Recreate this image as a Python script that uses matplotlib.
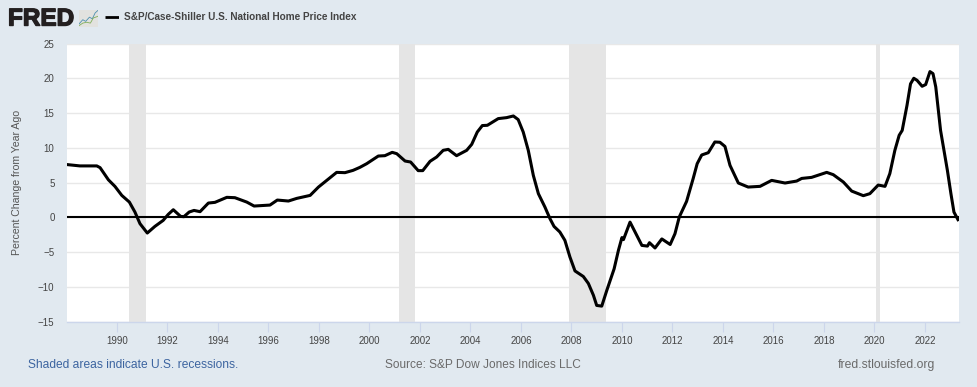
import matplotlib
matplotlib.use("Agg")
import matplotlib.pyplot as plt
import matplotlib.patheffects as pe
from matplotlib.patches import Rectangle

plt.rcParams['font.family'] = ['Liberation Sans', 'DejaVu Sans']

years = [1988.0, 1988.53, 1989.2, 1989.33, 1989.66, 1989.92, 1990.19, 1990.49, 1990.71, 1990.91,
         1991.2, 1991.5, 1991.83, 1992.03, 1992.23, 1992.52, 1992.65, 1992.86, 1993.05, 1993.29,
         1993.62, 1993.88, 1994.35, 1994.67, 1995.14, 1995.43, 1996.06, 1996.35, 1996.79, 1997.12,
         1997.65, 1997.98, 1998.31, 1998.7, 1999.03, 1999.35, 1999.62, 1999.89, 2000.35, 2000.61,
         2000.9, 2001.08, 2001.41, 2001.63, 2001.93, 2002.11, 2002.4, 2002.66, 2002.92, 2003.12,
         2003.45, 2003.85, 2004.05, 2004.27, 2004.47, 2004.67, 2005.1, 2005.43, 2005.7, 2005.89,
         2006.09, 2006.29, 2006.49, 2006.69, 2006.95, 2007.15, 2007.31, 2007.54, 2007.74, 2007.94,
         2008.14, 2008.47, 2008.67, 2008.87, 2009.0, 2009.2, 2009.4, 2009.69, 2009.86, 2010.0,
         2010.06, 2010.32, 2010.52, 2010.79, 2011.01, 2011.09, 2011.31, 2011.58, 2011.91, 2012.1,
         2012.27, 2012.56, 2012.82, 2012.98, 2013.16, 2013.42, 2013.68, 2013.88, 2014.08, 2014.28,
         2014.61, 2015.0, 2015.47, 2015.93, 2016.46, 2016.92, 2017.12, 2017.51, 2018.11, 2018.37,
         2018.77, 2019.1, 2019.56, 2019.82, 2020.15, 2020.42, 2020.61, 2020.81, 2020.98, 2021.1,
         2021.29, 2021.43, 2021.56, 2021.69, 2021.89, 2022.03, 2022.2, 2022.32, 2022.43, 2022.62,
         2022.89, 2023.03, 2023.15, 2023.31]
values = [7.6, 7.4, 7.4, 7.15, 5.4, 4.45, 3.16, 2.2, 0.77, -0.9,
          -2.25, -1.3, -0.43, 0.43, 1.1, 0.14, 0.1, 0.77, 1.0, 0.82,
          2.06, 2.16, 2.88, 2.83, 2.2, 1.63, 1.77, 2.49, 2.35, 2.73,
          3.16, 4.36, 5.32, 6.47, 6.43, 6.76, 7.19, 7.72, 8.82, 8.87,
          9.35, 9.16, 8.1, 7.96, 6.72, 6.72, 8.06, 8.68, 9.64, 9.78,
          8.87, 9.64, 10.5, 12.27, 13.2, 13.24, 14.2, 14.34, 14.58, 14.06,
          12.27, 9.64, 6.04, 3.41, 1.48, -0.19, -1.3, -2.1, -3.3, -5.7,
          -7.7, -8.5, -9.5, -11.2, -12.66, -12.76, -10.5, -7.4, -4.75, -2.9,
          -3.2, -0.68, -2.1, -4.03, -4.13, -3.64, -4.4, -3.1, -3.9, -2.35,
          0.05, 2.3, 5.57, 7.72, 8.97, 9.3, 10.84, 10.8, 10.2, 7.48,
          4.94, 4.36, 4.46, 5.32, 4.94, 5.22, 5.6, 5.75, 6.47, 6.14,
          5.08, 3.78, 3.12, 3.41, 4.65, 4.46, 6.29, 9.64, 11.8, 12.5,
          16.1, 19.2, 20.0, 19.7, 18.85, 19.1, 20.96, 20.67, 18.75, 12.5,
          6.76, 3.41, 0.76, -0.33]

recession_starts = [1990.48, 2001.18, 2007.9, 2020.06]
recession_ends = [1991.15, 2001.8, 2009.37, 2020.22]
xticks = [1990, 1992, 1994, 1996, 1998, 2000, 2002, 2004, 2006, 2008, 2010, 2012, 2014, 2016, 2018, 2020, 2022]
yticks = [-15, -10, -5, 0, 5, 10, 15, 20, 25]

W, H = 977, 387
BG = '#E1E9F0'
fig = plt.figure(figsize=(W / 100, H / 100), dpi=100, facecolor=BG)
ax = fig.add_axes([67 / W, 1 - 321.7 / H, (959 - 67) / W, (321.7 - 43.5) / H], facecolor='white')
ax.set_xlim(1988.02, 2023.35)
ax.set_ylim(-15, 25)

for s, e in zip(recession_starts, recession_ends):
    ax.axvspan(s, e, color='#E5E5E5', lw=0, zorder=1)
ax.yaxis.grid(True, color='#E8E8E8', lw=1.0, zorder=0)
ax.set_axisbelow(True)
ax.plot(years, values, color='black', lw=2.2, zorder=3, solid_joinstyle='round')
ax.axhline(0, color='black', lw=1.5, zorder=4)

for sp in ['top', 'left', 'right']:
    ax.spines[sp].set_visible(False)
ax.spines['bottom'].set_color('#CCD6EB')
ax.spines['bottom'].set_linewidth(1.0)

ax.set_xticks(xticks)
ax.set_yticks(yticks)
ax.tick_params(axis='x', length=7, width=0.8, color='#CCD6EB', labelsize=7, labelcolor='#444444', pad=3)
ax.tick_params(axis='y', length=0, labelsize=7, labelcolor='#444444', pad=9)
ax.set_yticklabels([str(t).replace('-', '\u2212') for t in yticks])

fig.text(17 / W, 1 - 182 / H, 'Percent Change from Year Ago', rotation=90, ha='center', va='center',
         fontsize=7.6, color='#555555')

# Header
fig.text(8 / W, 1 - 25.5 / H, 'FRED', fontsize=17.5, fontweight='bold', color='#231F20', ha='left', va='baseline',
         path_effects=[pe.withStroke(linewidth=1.0, foreground='#231F20')])
icon = fig.add_axes([79 / W, 1 - 26.5 / H, 19 / W, 17 / H], facecolor='#E4E4E2')
icon.set_xlim(0, 1)
icon.set_ylim(0, 1)
icon.axis('off')
icon.add_patch(Rectangle((0, 0), 1, 1, color='#E2E2DF', lw=0))
icon.plot([0, .2, .35, .55, .7, .85, 1], [.15, .4, .3, .55, .45, .8, .95], color='#4C8FB0', lw=0.6)
icon.plot([0, .2, .4, .6, .75, 1], [.05, .2, .25, .2, .5, .6], color='#7FAE5A', lw=0.6)

leg = fig.add_axes([105 / W, 1 - 19 / H, 14 / W, 4 / H])
leg.axis('off')
leg.set_xlim(0, 1)
leg.set_ylim(0, 1)
leg.plot([0, 1], [.5, .5], color='black', lw=2.0, solid_capstyle='butt')
fig.text(124 / W, 1 - 17 / H, 'S&P/Case-Shiller U.S. National Home Price Index', fontsize=7.2, fontweight='bold',
         color='#444444', ha='left', va='center')

# Footer
fig.text(28 / W, 1 - 365 / H, 'Shaded areas indicate U.S. recessions.', fontsize=8.65, color='#3C64A0', ha='left', va='center')
fig.text(385 / W, 1 - 365 / H, 'Source: S&P Dow Jones Indices LLC', fontsize=8.6, color='#6A6A6A', ha='left', va='center')
fig.text(935 / W, 1 - 365 / H, 'fred.stlouisfed.org', fontsize=8.75, color='#6A6A6A', ha='right', va='center')

fig.savefig('out.png', dpi=100, facecolor=BG)
